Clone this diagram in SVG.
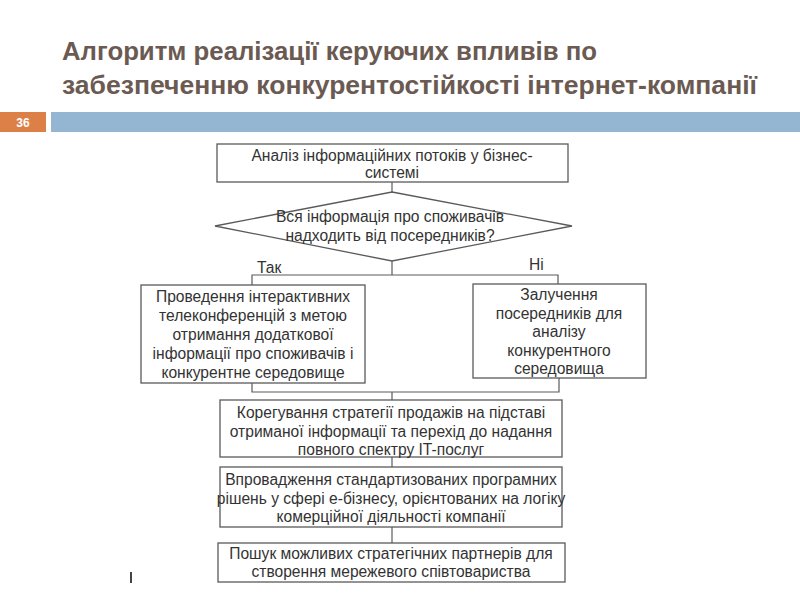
<svg xmlns="http://www.w3.org/2000/svg" width="800" height="600" viewBox="0 0 800 600">
<style>
.title{font-family:"Liberation Sans Narrow","Liberation Sans",Arial,sans-serif;font-weight:bold;font-size:26px;fill:#6b5a52}
.box{fill:#fff;stroke:#5a5a5a;stroke-width:1.3}
.t{font-family:"Liberation Sans",Arial,sans-serif;font-size:15.6px;fill:#333;text-anchor:middle}
.lbl{font-family:"Liberation Sans",Arial,sans-serif;font-size:15.6px;fill:#333}
.conn{fill:none;stroke:#5a5a5a;stroke-width:1.2}
</style>
<rect width="800" height="600" fill="#fff"/>
<text class="title" x="62" y="60" textLength="535" lengthAdjust="spacingAndGlyphs">Алгоритм реалізації керуючих впливів по</text>
<text class="title" x="62" y="94" textLength="695" lengthAdjust="spacingAndGlyphs">забезпеченню конкурентостійкості інтернет-компанії</text>
<rect x="0" y="112" width="46" height="20" fill="#dd8047"/>
<text x="23" y="127" font-family="Liberation Sans Narrow,Liberation Sans,Arial,sans-serif" font-weight="bold" font-size="12" fill="#fff" text-anchor="middle">36</text>
<rect x="51" y="112" width="749" height="20" fill="#94b6d2"/>
<g id="connectors">
<line class="conn" x1="392" y1="182" x2="392" y2="192"/>
<polyline class="conn" points="252,285 252,275 558,275 558,284"/>
<line class="conn" x1="392" y1="261" x2="392" y2="275"/>
<polyline class="conn" points="252,383 252,392 559,392 559,378"/>
<line class="conn" x1="392" y1="392" x2="392" y2="400"/>
<line class="conn" x1="392" y1="457" x2="392" y2="467"/>
<line class="conn" x1="392" y1="527" x2="392" y2="543"/>
<text class="lbl" x="257" y="273">Так</text>
<text class="lbl" x="529" y="270">Ні</text>
</g>
<g id="n1">
<rect class="box" x="217" y="144" width="351" height="38"/>
<text class="t" x="392" y="161">Аналіз інформаційних потоків у бізнес-</text>
<text class="t" x="392" y="178">системі</text>
</g>
<g id="n2">
<polygon class="box" points="392,192 572,226 392,261 215,226"/>
<text class="t" x="390" y="222">Вся інформація про споживачів</text>
<text class="t" x="390" y="241">надходить від посередників?</text>
</g>
<g id="n3">
<rect class="box" x="141" y="285" width="224" height="98"/>
<text class="t" x="253" y="302">Проведення інтерактивних</text>
<text class="t" x="253" y="321">телеконференцій з метою</text>
<text class="t" x="253" y="340">отримання додаткової</text>
<text class="t" x="253" y="359">інформації про споживачів і</text>
<text class="t" x="253" y="378">конкурентне середовище</text>
</g>
<g id="n4">
<rect class="box" x="473" y="284" width="173" height="94"/>
<text class="t" x="559" y="300">Залучення</text>
<text class="t" x="559" y="319">посередників для</text>
<text class="t" x="559" y="337">аналізу</text>
<text class="t" x="559" y="356">конкурентного</text>
<text class="t" x="559" y="374">середовища</text>
</g>
<g id="n5">
<rect class="box" x="220" y="400" width="342" height="57"/>
<text class="t" x="391" y="418">Корегування стратегії продажів на підставі</text>
<text class="t" x="391" y="437">отриманої інформації та перехід до надання</text>
<text class="t" x="391" y="455">повного спектру IT-послуг</text>
</g>
<g id="n6">
<rect class="box" x="220" y="467" width="342" height="60"/>
<text class="t" x="391" y="485">Впровадження стандартизованих програмних</text>
<text class="t" x="391" y="504">рішень у сфері е-бізнесу, орієнтованих на логіку</text>
<text class="t" x="391" y="522">комерційної діяльності компанії</text>
</g>
<g id="n7">
<rect class="box" x="218" y="543" width="347" height="39"/>
<text class="t" x="391" y="559">Пошук можливих стратегічних партнерів для</text>
<text class="t" x="391" y="577">створення мережевого співтовариства</text>
</g>
<line x1="131" y1="572" x2="131" y2="583" stroke="#444" stroke-width="2"/>
</svg>
